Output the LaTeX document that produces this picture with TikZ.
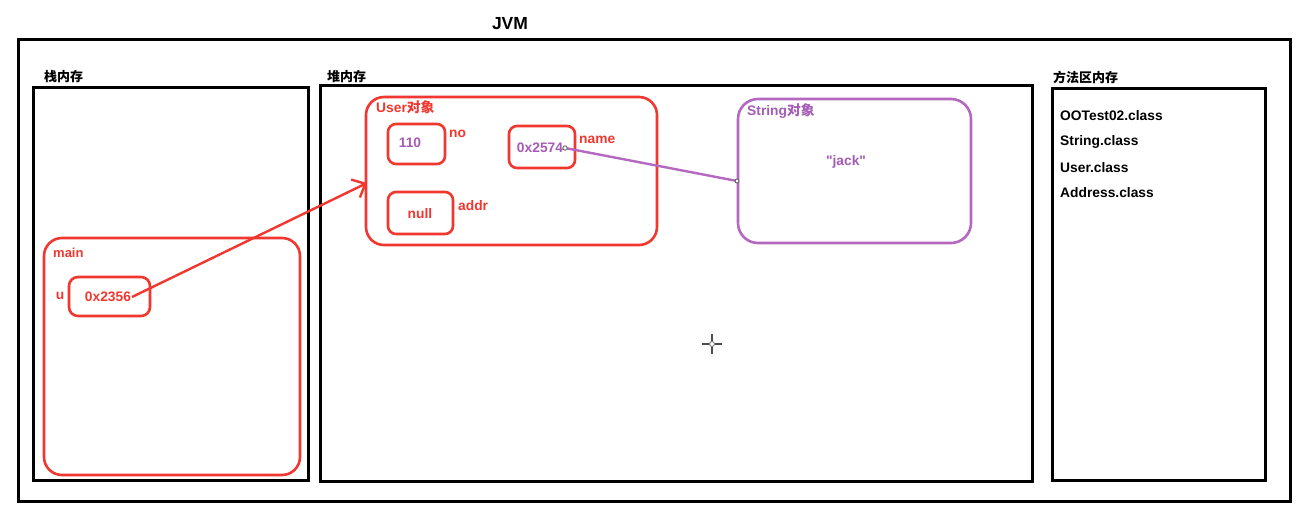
\documentclass[tikz,border=0pt]{standalone}
\usepackage{fontspec}
\setmainfont{Liberation Sans}
\newfontfamily\cjk{Noto Sans CJK SC}
\newfontfamily\qfont{Liberation Sans}
\usetikzlibrary{arrows.meta,calc}
\definecolor{jred}{RGB}{240,56,48}
\definecolor{jpur}{RGB}{180,104,192}
\definecolor{jtxtpur}{RGB}{165,92,182}
\tikzset{
  blackbox/.style={draw=black, line width=3pt, inner sep=0pt},
  redbox/.style={draw=jred, line width=2.6pt, rounded corners=#1, inner sep=0pt},
  purbox/.style={draw=jpur, line width=2.6pt, rounded corners=#1, inner sep=0pt},
  lbl/.style={font=\bfseries\fontsize{13}{15}\selectfont, inner sep=0pt, anchor=west},
  cls/.style={font=\bfseries\fontsize{13.8}{16}\selectfont, inner sep=0pt, anchor=west},
  rtxt/.style={text=jred, font=\bfseries\fontsize{13.8}{16}\selectfont, inner sep=0pt},
  ptxt/.style={text=jtxtpur, font=\bfseries\fontsize{13.8}{16}\selectfont, inner sep=0pt},
}
\begin{document}
\begin{tikzpicture}[x=1pt,y=-1pt]
\useasboundingbox[fill=white] (0,0) rectangle (1300,510);
% title
\node[font=\bfseries\fontsize{17.5}{19}\selectfont, inner sep=0pt] (jvm) at (510,24) {JVM};
% big boxes
\node[blackbox, minimum width=1272pt, minimum height=461pt] (outer) at (654,270.5) {};
\node[blackbox, minimum width=275pt, minimum height=392pt] (stack) at (170.5,284) {};
\node[blackbox, minimum width=712pt, minimum height=395pt] (heap) at (676,283.5) {};
\node[blackbox, minimum width=213pt, minimum height=391pt] (method) at (1158.5,284.5) {};
% area labels
\node[lbl] (stacklbl) at (44,77) {\cjk 栈内存};
\node[lbl] (heaplbl) at (327,77) {\cjk 堆内存};
\node[lbl] (methodlbl) at (1053,77) {\cjk 方法区内存};
% class list
\node[cls] (c1) at (1060,116) {OOTest02.class};
\node[cls] (c2) at (1060,142) {String.class};
\node[cls] (c3) at (1060,168) {User.class};
\node[cls] (c4) at (1060,193) {Address.class};
% stack frame
\node[redbox=18pt, minimum width=256pt, minimum height=237pt] (main) at (172,356.5) {};
\node[rtxt, anchor=west, font=\bfseries\fontsize{13}{15}\selectfont] (mainlbl) at (53,253) {main};
\node[redbox=9pt, minimum width=81pt, minimum height=39pt] (ubox) at (109.5,296.5) {};
\node[rtxt] (ulbl) at (60,296) {u};
\node[rtxt] (uval) at (108,296.5) {0x2356};
% User object
\node[redbox=18pt, minimum width=291pt, minimum height=148pt] (user) at (511.5,171) {};
\node[rtxt, anchor=west] (userlbl) at (376,107) {User{\cjk 对象}};
\node[redbox=8pt, minimum width=57pt, minimum height=40pt] (nobox) at (416.5,144) {};
\node[ptxt] (noval) at (410,143) {110};
\node[rtxt, anchor=west] (nolbl) at (449,134) {no};
\node[redbox=8pt, minimum width=66pt, minimum height=42pt] (namebox) at (542,147) {};
\node[ptxt] (nameval) at (540,148) {0x2574};
\node[rtxt, anchor=west] (namelbl) at (579,140) {name};
\node[redbox=8pt, minimum width=65pt, minimum height=42pt] (nullbox) at (420.5,213) {};
\node[rtxt] (nullval) at (420,214) {null};
\node[rtxt, anchor=west] (addrlbl) at (458,206) {addr};
% String object
\node[purbox=20pt, minimum width=233pt, minimum height=144pt] (strobj) at (854.5,171) {};
\node[ptxt, anchor=west] (strlbl) at (747,111) {String{\cjk 对象}};
\node[ptxt] (jack) at (846,162) {\qfont\bfseries "jack"};
% connectors
\coordinate (ustart) at (132,297);
\coordinate (utip) at (367,183);
\draw[jred, line width=2.4pt, -{Straight Barb[length=11pt,width=20pt,line width=2.4pt]}] (ustart) -- (utip);
\coordinate (nstart) at (565,148);
\coordinate (nend) at (737,181);
\draw[jpur, line width=2.4pt] (nstart) -- (nend);
\draw[gray!70!black, fill=white, line width=0.8pt] (nstart) circle (2.2pt) (nend) circle (2pt);
% cursor
\coordinate (cur) at (712,344);
\draw[black!70, line width=1.3pt] ($(cur)+(-10,0)$) -- ($(cur)+(-3,0)$) ($(cur)+(3,0)$) -- ($(cur)+(10,0)$)
  ($(cur)+(0,-10)$) -- ($(cur)+(0,-3)$) ($(cur)+(0,3)$) -- ($(cur)+(0,10)$);
\draw[black!60, line width=0.8pt] (cur) circle (2.5pt);
\end{tikzpicture}
\end{document}
